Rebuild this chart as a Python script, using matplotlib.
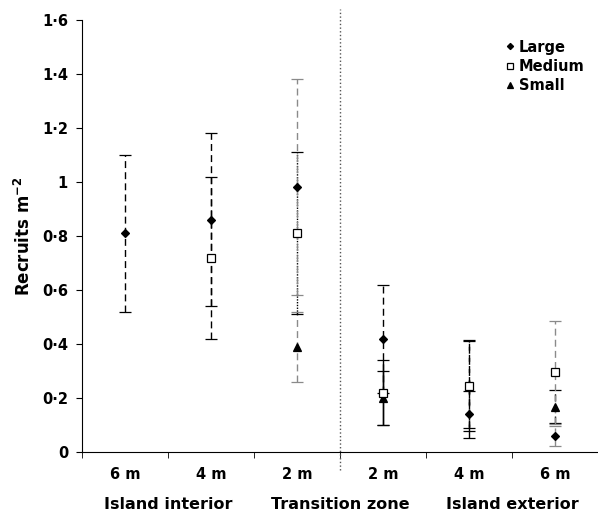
"""Recruits per m2 by island zone and depth — errorbar chart."""
import numpy as np
import matplotlib
matplotlib.use("Agg")
import matplotlib.pyplot as plt

# categories (left to right)
depths = ["6 m", "4 m", "2 m", "2 m", "4 m", "6 m"]
zones = ["Island interior", "Transition zone", "Island exterior"]
yticks = [0, 0.2, 0.4, 0.6, 0.8, 1.0, 1.2, 1.4, 1.6]
ytick_labels = ["0", "0·2", "0·4", "0·6", "0·8", "1", "1·2", "1·4", "1·6"]

nan = np.nan
large = [0.81, 0.86, 0.98, 0.42, 0.14, 0.06]
large_err = [0.29, 0.32, 0.40, 0.20, 0.087, 0.038]
medium = [nan, 0.72, 0.81, 0.22, 0.246, 0.295]
medium_err = [nan, 0.30, 0.30, 0.12, 0.17, 0.19]
small = [nan, nan, 0.39, 0.20, 0.25, 0.168]
small_err = [nan, nan, 0.13, 0.10, 0.16, 0.062]

DASH = (0, (5, 3))
DOT = (0, (1, 1))
# per-point errorbar styling (colour, linestyle)
large_sty = [("k", DASH), ("k", DASH), ("#8a8a8a", DASH), ("k", DASH), ("k", DASH), ("#8a8a8a", DASH)]
medium_sty = [None, ("k", DASH), ("k", DOT), ("k", "-"), ("k", DASH), ("#8a8a8a", DASH)]
small_sty = [None, None, ("#8a8a8a", DASH), ("k", "-"), ("k", DASH), ("k", DASH)]

plt.rcParams["font.family"] = ["DejaVu Sans"]
plt.rcParams["font.weight"] = "bold"

fig = plt.figure(figsize=(5.98, 5.14), dpi=100)
ax = fig.add_axes([0.137, 0.1206, 0.863, 0.8405])

x = np.arange(len(depths))


def draw(vals, errs, styles, marker, ms, face, label, z):
    for i, (v, e, s) in enumerate(zip(vals, errs, styles)):
        if s is None or np.isnan(v):
            continue
        col, ls = s
        eb = ax.errorbar(x[i], v, yerr=e, fmt="none", ecolor=col, elinewidth=1.0,
                         capsize=4, capthick=0.9, zorder=z)
        eb[2][0].set_linestyle(ls)
    ax.plot(x, vals, ls="none", marker=marker, ms=ms, mfc=face, mec="k",
            mew=0.9, color="k", label=label, zorder=z + 5)


draw(large, large_err, large_sty, "D", 4.2, "k", "Large", 3)
draw(medium, medium_err, medium_sty, "s", 5.2, "white", "Medium", 2)
draw(small, small_err, small_sty, "^", 5.8, "k", "Small", 1)

# separator between interior and exterior
ax.plot([2.5, 2.5], [-0.067, 1.64], ls=":", color="#555555", lw=1.0, clip_on=False)

ax.set_xlim(-0.5, 5.5)
ax.set_ylim(0, 1.6)
ax.set_yticks(yticks)
ax.set_yticklabels(ytick_labels, fontsize=10.5, fontweight="bold")
ax.set_xticks(x)
ax.set_xticklabels(depths, fontsize=10.5, fontweight="bold")
ax.set_xticks(np.arange(-0.5, 6.0, 1.0), minor=True)
ax.tick_params(axis="x", which="major", length=0, pad=11)
ax.tick_params(axis="x", which="minor", length=4, direction="out")
ax.tick_params(axis="y", length=4, direction="out", pad=6)

for side in ("top", "right"):
    ax.spines[side].set_visible(False)

ax.set_ylabel("Recruits m$^{\\mathbf{-2}}$", fontsize=12, fontweight="bold", labelpad=6)

for zx, name in zip([0.5, 2.5, 4.5], zones):
    ax.text(zx, -0.195, name, ha="center", va="center", fontsize=11.5,
            fontweight="bold", transform=ax.transData, clip_on=False)

leg = ax.legend(loc="upper right", bbox_to_anchor=(1.0, 0.985), frameon=False,
                fontsize=10.5, handletextpad=0.1, labelspacing=0.3,
                markerscale=0.75, handlelength=1.0)
for t in leg.get_texts():
    t.set_fontweight("bold")

fig.savefig("out.png", dpi=100)
